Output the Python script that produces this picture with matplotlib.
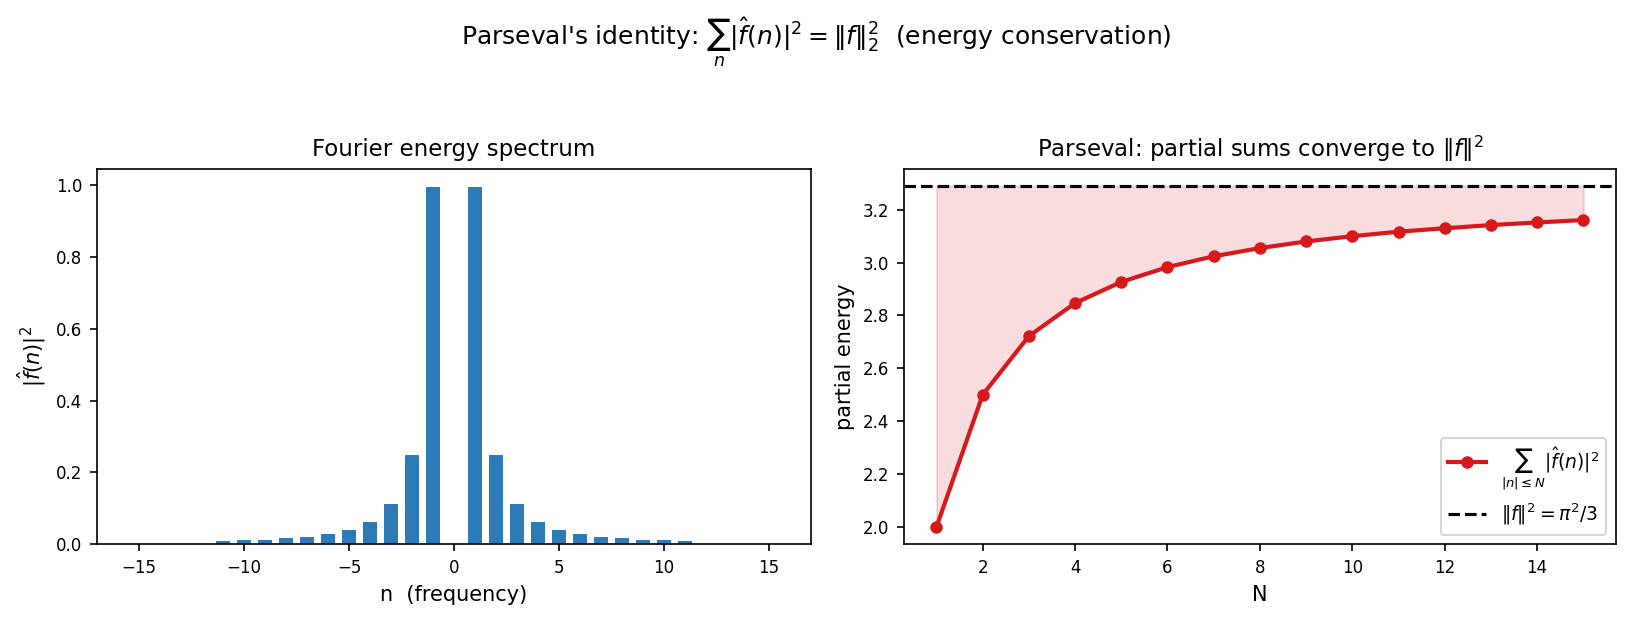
import matplotlib
matplotlib.use("Agg")
import matplotlib.pyplot as plt
import numpy as np

# Data
freqs = list(range(-11, 12))
energy_pos = [0.996, 0.249, 0.111, 0.0623, 0.0398, 0.0277, 0.0203, 0.0156, 0.0123, 0.00996, 0.00823]
energy = energy_pos[::-1] + [0.0] + energy_pos
N_vals = list(range(1, 16))
partial = [2.0, 2.5, 2.722, 2.847, 2.927, 2.983, 3.024, 3.055, 3.080, 3.100, 3.117, 3.130, 3.142, 3.152, 3.161]
total = 3.29

blue = "#2c7bb6"
red = "#d7191c"

fig = plt.figure(figsize=(10.88, 4.14), dpi=150)
ax1 = fig.add_axes([0.0594, 0.124, 0.4376, 0.604])
ax2 = fig.add_axes([0.554, 0.124, 0.436, 0.604])

ax1.bar(freqs, energy, width=0.7, color=blue)
ax1.set_xlim(-17, 17)
ax1.set_xticks([-15, -10, -5, 0, 5, 10, 15])
ax1.set_title("Fourier energy spectrum", fontsize=11)
ax1.set_xlabel("n  (frequency)", fontsize=10)
ax1.set_ylabel(r"$|\hat{f}(n)|^2$", fontsize=10)
ax1.tick_params(labelsize=8)

ax2.fill_between(N_vals, partial, total, color=red, alpha=0.15)
ax2.plot(N_vals, partial, "-o", color=red, lw=2, ms=5,
         label=r"$\sum_{|n|\leq N}|\hat{f}(n)|^2$")
ax2.axhline(total, color="black", ls="--", lw=1.5, label=r"$\|f\|^2 = \pi^2/3$")
ax2.set_title(r"Parseval: partial sums converge to $\|f\|^2$", fontsize=11)
ax2.set_xlabel("N", fontsize=10)
ax2.set_ylabel("partial energy", fontsize=10)
ax2.tick_params(labelsize=8)
ax2.legend(loc="lower right", fontsize=9)

fig.suptitle(r"Parseval's identity: $\sum_n |\hat{f}(n)|^2 = \|f\|_2^2$  (energy conservation)",
             fontsize=12, y=0.975)

fig.savefig("out.png", dpi=150)
